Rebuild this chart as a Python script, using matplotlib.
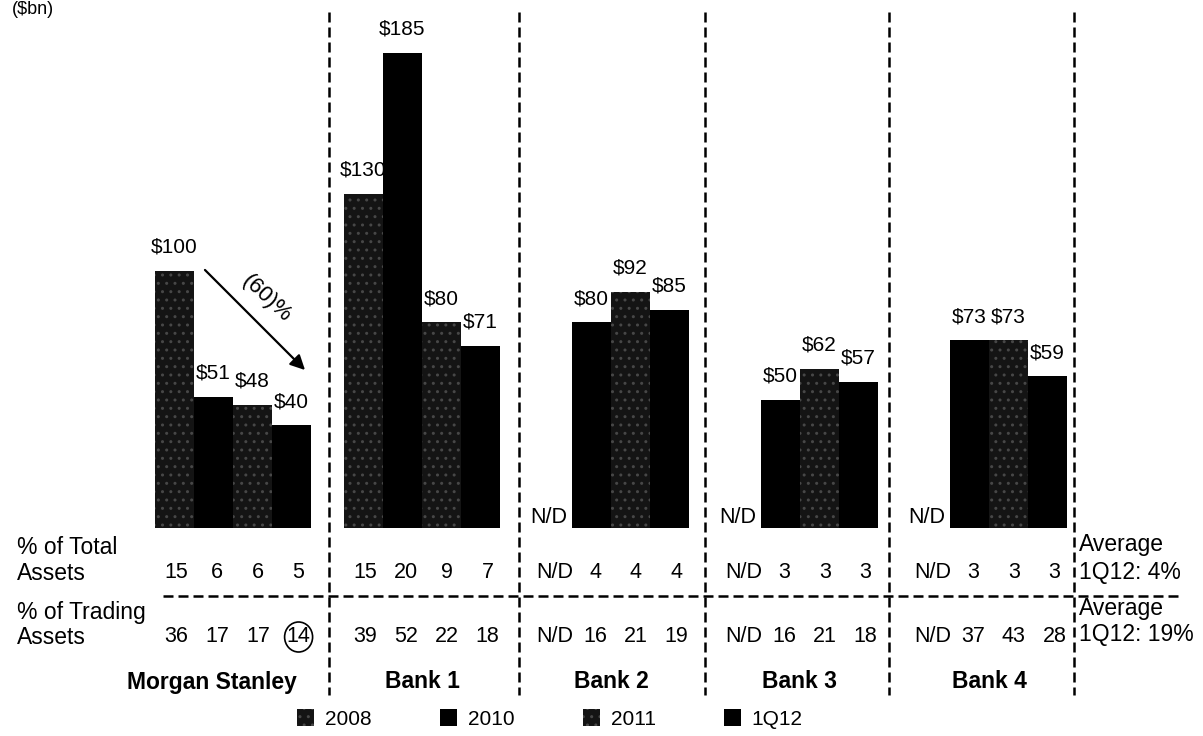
import matplotlib
matplotlib.use('Agg')
import matplotlib.pyplot as plt
import matplotlib.transforms as mtransforms
from matplotlib.patches import Ellipse
from matplotlib.lines import Line2D

plt.rcParams['font.family'] = ['Liberation Sans', 'DejaVu Sans']

# Exposure by bank and period ($bn); None = not disclosed
banks = ['Morgan Stanley', 'Bank 1', 'Bank 2', 'Bank 3', 'Bank 4']
periods = ['2008', '2010', '2011', '1Q12']
v2008 = [100, 130, None, None, None]
v2010 = [51, 185, 80, 50, 73]
v2011 = [48, 80, 92, 62, 73]
v1q12 = [40, 71, 85, 57, 59]

pct_total = [[15, 6, 6, 5], [15, 20, 9, 7], [None, 4, 4, 4],
             [None, 3, 3, 3], [None, 3, 3, 3]]
pct_trading = [[36, 17, 17, 14], [39, 52, 22, 18], [None, 16, 21, 19],
               [None, 16, 21, 18], [None, 37, 43, 28]]
avg_total_1q12 = 4
avg_trading_1q12 = 19
ms_change = -60

W, H = 1203, 736
fig = plt.figure(figsize=(W / 100, H / 100), dpi=100)
ax = fig.add_axes([0, 0, 1, 1])
ax.set_axis_off()

# pixel layout: baseline at 528 px from top, 2.57 px per $bn
base, scale = 528, 2.57
ax.set_xlim(0, W)
ax.set_ylim((base - H) / scale, base / scale)

# coordinates in pixels measured from the top-left corner
px = mtransforms.Affine2D().scale(1 / W, -1 / H).translate(0, 1) + fig.transFigure

group_x0, group_step, bw = 155, 189, 39
fs = 15          # bar labels
fs_tab = 15.5    # table numbers
fs_lab = 16.5    # row labels, bank names

series = [v2008, v2010, v2011, v1q12]
speckled = dict(color='#141414', hatch='..', edgecolor='#474747')
solid = dict(color='black', edgecolor='black')
styles = [speckled, solid, speckled, solid]

handles = []
for k, (vals, st) in enumerate(zip(series, styles)):
    xs = [group_x0 + group_step * g + bw * (k + 0.5) for g in range(len(banks))]
    hs = [v if v is not None else 0 for v in vals]
    bars = ax.bar(xs, hs, width=bw, linewidth=0, **st)
    handles.append(bars)
    for x, v in zip(xs, vals):
        if v is None:
            ax.text(x - 4, 0, 'N/D', ha='center', va='bottom', fontsize=fs_tab)
        else:
            ax.annotate(f'${v}', (x, v), xytext=(0, 17), textcoords='offset points',
                        ha='center', va='center', fontsize=fs)

# table rows under the bars
for g in range(len(banks)):
    for k in range(4):
        x = group_x0 + group_step * g + bw * (k + 0.5) + 2 + 1.7 * k
        for row, yy in ((pct_total, 573), (pct_trading, 637)):
            v = row[g][k]
            ax.text(x, yy, 'N/D' if v is None else str(v), transform=px,
                    ha='center', va='center', fontsize=fs_tab)
        if g == 0 and k == 3:
            circle_x = x

ax.text(17, 547, '% of Total', transform=px, ha='left', va='center', fontsize=fs_lab)
ax.text(17, 573, 'Assets', transform=px, ha='left', va='center', fontsize=fs_lab)
ax.text(17, 613, '% of Trading', transform=px, ha='left', va='center', fontsize=fs_lab)
ax.text(17, 638, 'Assets', transform=px, ha='left', va='center', fontsize=fs_lab)

ax.text(1079, 545, 'Average', transform=px, ha='left', va='center', fontsize=fs_lab)
ax.text(1079, 572, f'1Q12: {avg_total_1q12}%', transform=px, ha='left', va='center', fontsize=fs_lab)
ax.text(1079, 608, 'Average', transform=px, ha='left', va='center', fontsize=fs_lab)
ax.text(1079, 635, f'1Q12: {avg_trading_1q12}%', transform=px, ha='left', va='center', fontsize=fs_lab)

# circle around the latest Morgan Stanley trading-asset share
ax.add_patch(Ellipse((circle_x, 637), 28, 30, transform=px, fill=False,
                     edgecolor='black', linewidth=1.2))

# bank names
name_x = [212] + [group_x0 + group_step * g + 2 * bw for g in range(1, len(banks))]
for x, name in zip(name_x, banks):
    ax.text(x, 682, name, transform=px, ha='center', va='center',
            fontsize=fs_lab, fontweight='bold')

# dashed separators
dash = dict(color='black', linewidth=1.8, linestyle=(0, (4, 2)))
for x in [329, 519, 705, 889, 1074]:
    ax.add_line(Line2D([x, x], [12, 695], transform=px, **dash))
ax.add_line(Line2D([163, 1183], [596, 596], transform=px, **dash))

# decline arrow for Morgan Stanley
ax.annotate('', xy=(307, 372), xytext=(203, 268), xycoords=px, textcoords=px,
            arrowprops=dict(arrowstyle='-|>', color='black', lw=1.6, mutation_scale=22))
ax.text(266, 299, f'({abs(ms_change)})%', transform=px, rotation=-43,
        ha='center', va='center', fontsize=16)

ax.text(12, 1, '($bn)', transform=px, ha='left', va='top', fontsize=13)

fig.legend(handles, periods, loc='center', bbox_to_anchor=(550 / W, 1 - 719 / H),
           ncol=4, frameon=False, fontsize=fs, handlelength=0.82, handleheight=0.82,
           handletextpad=0.5, columnspacing=3.3)

fig.savefig('out.png', dpi=100)
